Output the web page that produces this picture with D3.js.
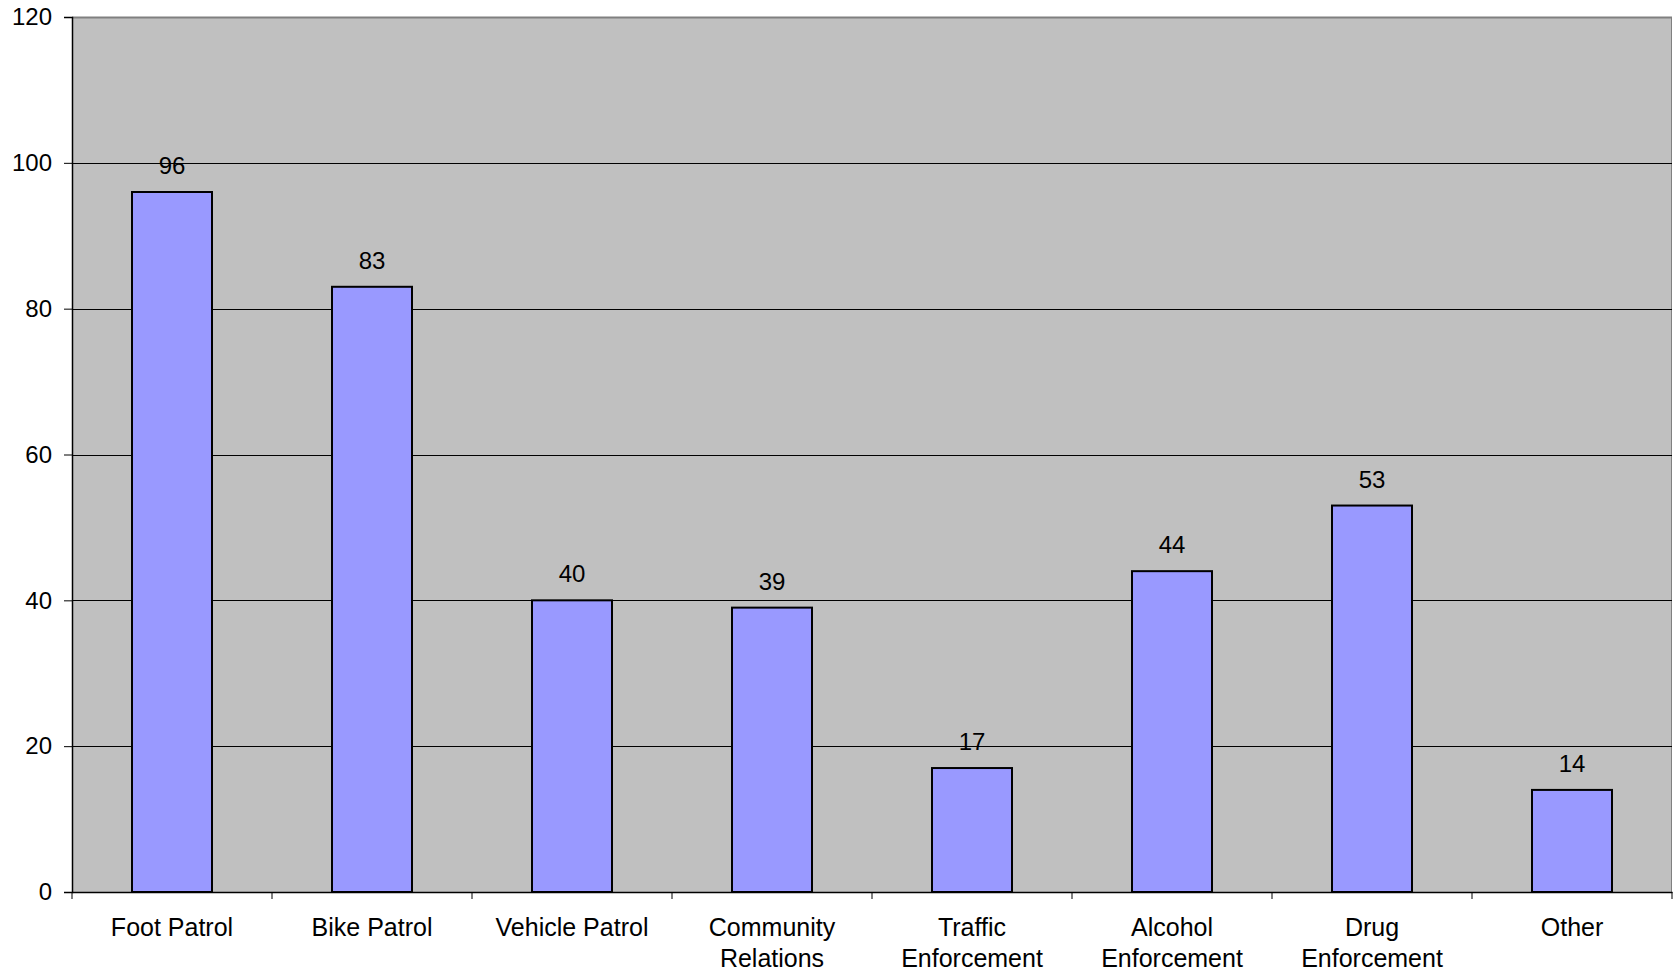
<!DOCTYPE html>
<html><head><meta charset="utf-8">
<script src="https://cdn.jsdelivr.net/npm/d3@7"></script>
<style>body{margin:0;background:#fff}svg{display:block}text{font-family:"Liberation Sans",Arial,sans-serif;fill:#000}</style>
</head><body>
<script>
const categories = [["Foot Patrol"],["Bike Patrol"],["Vehicle Patrol"],["Community","Relations"],["Traffic","Enforcement"],["Alcohol","Enforcement"],["Drug","Enforcement"],["Other"]];
const values = [96,83,40,39,17,44,53,14];
const yTicks = [0,20,40,60,80,100,120];

const W=1673,H=973, L=72, R=1672, T=17, B=892;
const svg=d3.select("body").append("svg").attr("width",W).attr("height",H);
const x=d3.scaleBand().domain(d3.range(categories.length)).range([L,R]).padding(0);
const y=d3.scaleLinear().domain([0,120]).range([B,T]);

svg.append("rect").attr("x",L).attr("y",T).attr("width",R-L).attr("height",B-T).attr("fill","#c0c0c0");
svg.append("line").attr("x1",L).attr("x2",R).attr("y1",T+0.5).attr("y2",T+0.5).attr("stroke","#808080").attr("stroke-width",2);
svg.append("line").attr("x1",R-0.5).attr("x2",R-0.5).attr("y1",T).attr("y2",B).attr("stroke","#808080").attr("stroke-width",1);

svg.append("g").selectAll("line").data(yTicks.filter(d=>d>0&&d<120)).join("line")
 .attr("x1",L).attr("x2",R).attr("y1",d=>Math.round(y(d))+0.5).attr("y2",d=>Math.round(y(d))+0.5)
 .attr("stroke","#000").attr("stroke-width",1);

const bw=x.bandwidth()*0.4;
svg.append("g").selectAll("rect").data(values).join("rect")
 .attr("x",(d,i)=>x(i)+x.bandwidth()/2-bw/2).attr("width",bw)
 .attr("y",d=>y(d)).attr("height",d=>B-y(d))
 .attr("fill","#9999ff").attr("stroke","#000").attr("stroke-width",2);

svg.append("g").selectAll("text").data(values).join("text")
 .attr("x",(d,i)=>x(i)+x.bandwidth()/2).attr("y",d=>y(d)-18)
 .attr("text-anchor","middle").attr("font-size",24).text(d=>d);

const ya=svg.append("g").attr("transform",`translate(${L},0)`)
 .call(d3.axisLeft(y).tickValues(yTicks).tickSize(8).tickPadding(12));
ya.select(".domain").attr("stroke","#000").attr("stroke-width",1.5);
ya.selectAll(".tick line").attr("stroke","#000");
ya.selectAll(".tick text").attr("font-size",24).attr("font-family","Liberation Sans, Arial, sans-serif").attr("fill","#000");

const xa=svg.append("g").attr("transform",`translate(0,${B})`)
 .call(d3.axisBottom(x).tickValues([]).tickSizeOuter(0));
xa.select(".domain").attr("stroke","#000").attr("stroke-width",1.5);
xa.selectAll(".sep").data(d3.range(categories.length+1)).join("line").attr("class","sep")
 .attr("x1",i=>i<categories.length?x(i):R).attr("x2",i=>i<categories.length?x(i):R)
 .attr("y1",0).attr("y2",7).attr("stroke","#000");

const lab=svg.append("g").selectAll("text").data(categories).join("text")
 .attr("x",(d,i)=>x(i)+x.bandwidth()/2).attr("y",936)
 .attr("text-anchor","middle").attr("font-size",25);
lab.selectAll("tspan").data(d=>d).join("tspan")
 .attr("x",function(){return this.parentNode.getAttribute("x");})
 .attr("dy",(d,i)=>i?31:0).text(d=>d);
</script>
</body></html>
